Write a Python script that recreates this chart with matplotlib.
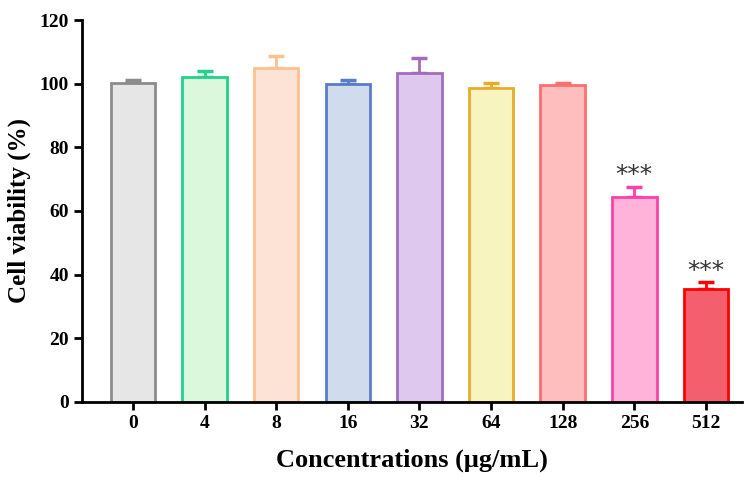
import matplotlib
matplotlib.use("Agg")
import matplotlib.pyplot as plt
import numpy as np

categories = ["0", "4", "8", "16", "32", "64", "128", "256", "512"]
values = [100.2, 102.2, 104.9, 99.8, 103.2, 98.6, 99.7, 64.4, 35.6]
errors = [0.8, 1.8, 3.7, 1.2, 5.0, 1.6, 0.6, 3.2, 2.0]
edge_colors = ["#8c8c8c", "#1fd38a", "#ffc090", "#5b7cc6", "#a36cbb",
               "#e8ab2a", "#ff6e6e", "#ff40a8", "#ff0000"]
face_colors = ["#e6e6e6", "#dcf8dc", "#fde2d6", "#d0dbee", "#dfc8ed",
               "#f8f4c0", "#ffbebe", "#ffb3da", "#f45f6d"]
significance = ["", "", "", "", "", "", "", "***", "***"]

plt.rcParams['font.family'] = ['Liberation Serif', 'DejaVu Serif']
plt.rcParams['font.weight'] = 'bold'

fig = plt.figure(figsize=(7.54, 4.82), dpi=100)
ax = fig.add_axes([0.1088, 0.166, 0.875, 0.7925])

x = np.arange(len(categories))
for i in range(len(categories)):
    ax.bar(x[i], values[i], width=0.62, color=face_colors[i],
           edgecolor=edge_colors[i], linewidth=2, zorder=2)
    ax.errorbar(x[i], values[i], yerr=[[0], [errors[i]]], fmt='none',
                ecolor=edge_colors[i], elinewidth=2, capsize=6, capthick=2.5, zorder=1)
    if significance[i]:
        ax.text(x[i], values[i] + errors[i] - 0.2, significance[i],
                ha='center', va='bottom', fontsize=18, fontweight='normal',
                color='#333333', family=['DejaVu Sans'])

ax.set_xlim(-0.71, 8.5)
ax.set_ylim(0, 120)
ax.set_yticks(np.arange(0, 121, 20))
ax.set_xticks(x)
ax.set_xticklabels(categories)
for s in ['top', 'right']:
    ax.spines[s].set_visible(False)
for s in ['left', 'bottom']:
    ax.spines[s].set_linewidth(2)
ax.tick_params(axis='both', width=2, length=6, labelsize=14, direction='out')
for lab in ax.get_xticklabels() + ax.get_yticklabels():
    lab.set_fontweight('bold')
ax.set_ylabel("Cell viability (%)", fontsize=18, fontweight='bold', labelpad=6)
ax.set_xlabel("Concentrations (μg/mL)", fontsize=19, fontweight='bold', labelpad=12)

fig.savefig("out.png", dpi=100)
